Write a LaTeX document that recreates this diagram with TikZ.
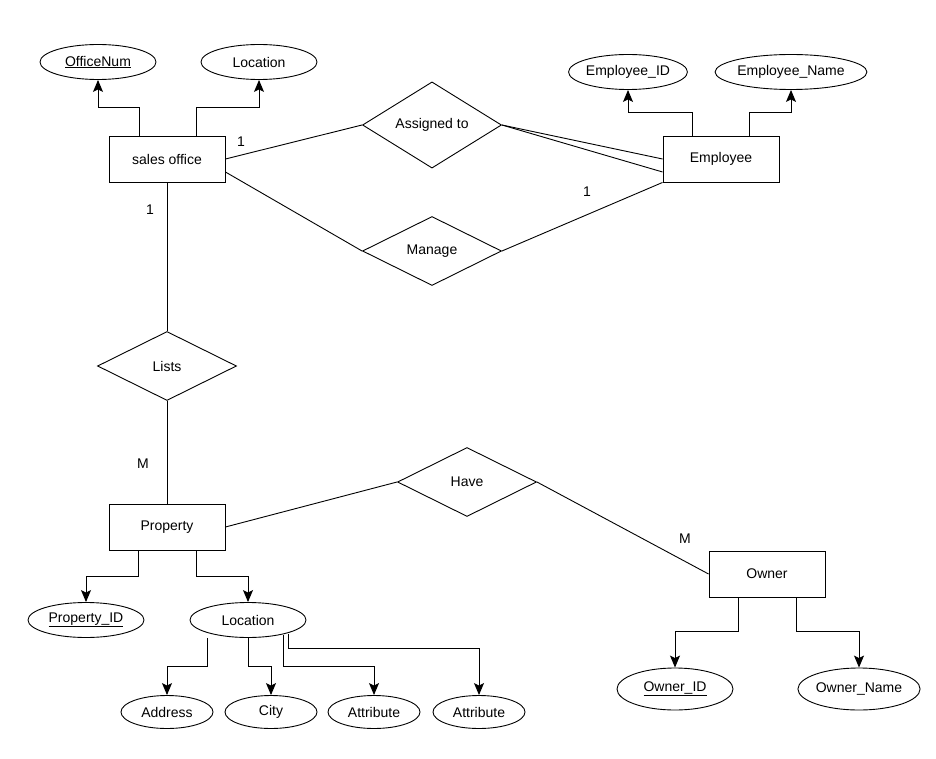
\documentclass[tikz,border=0pt]{standalone}
\usepackage{fontspec}
\setmainfont{Liberation Sans}
\usetikzlibrary{shapes.geometric,arrows.meta,calc}

\tikzset{
  entity/.style={draw,line width=0.9pt,minimum width=116pt,minimum height=46pt,inner sep=0pt},
  attrib/.style={draw,ellipse,line width=0.9pt,minimum width=116pt,minimum height=35pt,inner sep=0pt},
  smallattrib/.style={attrib,minimum width=92pt,minimum height=33pt},
  relation/.style={draw,diamond,line width=0.9pt,minimum width=139pt,minimum height=69pt,inner sep=0pt},
  card/.style={inner sep=0pt},
  link/.style={line width=0.9pt},
  arr/.style={line width=1pt,-{Stealth[length=12pt,width=10pt,inset=2.5pt]}}
}

\begin{document}
\begin{tikzpicture}[x=1pt,y=-1pt,font=\fontsize{14}{16}\selectfont]
\useasboundingbox[fill=white] (0,0) rectangle (936,759);

% Entities
\node[entity] (so) at (167,159) {sales office};
\node[entity] (emp) at (721,159) {Employee};
\node[entity] (prop) at (167,527) {Property};
\node[entity] (own) at (767,574) {Owner};

% Relationships
\node[relation] (as) at (432,125) {Assigned to};
\node[relation] (mg) at (432,251) {Manage};
\node[relation] (ls) at (167,366) {Lists};
\node[relation] (hv) at (467,482) {Have};

% Attributes
\node[attrib] (onum) at (98,62) {\underline{OfficeNum}};
\node[attrib] (oloc) at (259,62) {Location};
\node[attrib] (eid) at (628,72) {Employee\_ID};
\node[attrib] (ename) at (791,72) {Employee\_Name};
\node[attrib] (pid) at (86,620) {\underline{Property\_ID}};
\node[attrib] (ploc) at (248,620) {Location};
\node[attrib,minimum height=42pt] (owid) at (675,689) {\underline{Owner\_ID}};
\node[attrib,minimum height=42pt] (owname) at (859,689) {Owner\_Name};
\node[smallattrib] (addr) at (167,712) {Address};
\node[smallattrib] (city) at (271,712) {City};
\node[smallattrib] (atta) at (374,712) {Attribute};
\node[smallattrib] (attb) at (479,712) {Attribute};

% Cardinalities
\node[card] (c1) at (241,142) {1};
\node[card] (c2) at (587,192) {1};
\node[card] (c3) at (150,210) {1};
\node[card] (c4) at (143,464) {M};
\node[card] (c5) at (685,539) {M};

% Relationship lines
\draw[link] (so.east) -- (as.west);
\draw[link] (as.east) -- (emp.west);
\draw[link] (as.east) -- ([yshift=-13pt]emp.west);
\draw[link] ([yshift=-13pt]so.east) -- (mg.west);
\draw[link] (emp.south west) -- (mg.east);
\draw[link] (so.south) -- (ls.north);
\draw[link] (ls.south) -- (prop.north);
\draw[link] (prop.east) -- (hv.west);
\draw[link] (hv.east) -- (own.west);

% Attribute arrows
\draw[arr] ([xshift=-28pt]so.north) -- ++(0,-28) -| (onum.south);
\draw[arr] ([xshift=29pt]so.north) -- ++(0,-28) -| (oloc.south);
\draw[arr] ([xshift=-29pt]emp.north) -- ++(0,-23) -| (eid.south);
\draw[arr] ([xshift=28pt]emp.north) -- ++(0,-23) -| (ename.south);
\draw[arr] ([xshift=-29pt]prop.south) -- ++(0,26) -| (pid.north);
\draw[arr] ([xshift=29pt]prop.south) -- ++(0,26) -| (ploc.north);
\draw[arr] ([xshift=-29pt]own.south) -- ++(0,34) -| (owid.north);
\draw[arr] ([xshift=29pt]own.south) -- ++(0,34) -| (owname.north);

% Location parts
\draw[arr] ([xshift=-41pt]ploc.south) -- ++(0,29) -| (addr.north);
\draw[arr] (ploc.south) -- ++(0,29) -| (city.north);
\draw[arr] ([xshift=35pt,yshift=3pt]ploc.south) -- ++(0,32) -| (atta.north);
\draw[arr] ([xshift=40pt,yshift=4pt]ploc.south) -- ++(0,15) -| (attb.north);
\end{tikzpicture}
\end{document}
